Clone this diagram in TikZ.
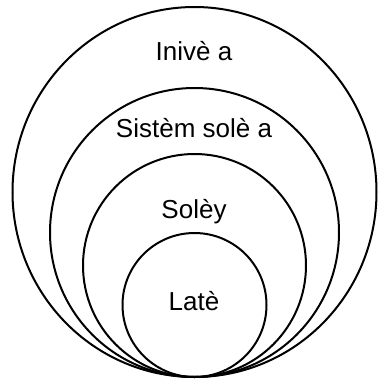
\documentclass[tikz,border=0pt]{standalone}
\usepackage{fontspec}
\setmainfont{Liberation Sans}
\usetikzlibrary{positioning,shapes.geometric}

\begin{document}
\begin{tikzpicture}[
  x=1pt, y=-1pt,
  every node/.style={font=\fontsize{26}{30}\selectfont},
  ring/.style={circle, draw, line width=2pt, outer sep=0pt, inner sep=0pt},
  lbl/.style={anchor=base}
]
  \useasboundingbox (0,0) rectangle (378,381);
  \coordinate (tip) at (194.5,377);

  \node[ring, ellipse, minimum width=364pt, minimum height=370pt, above=0pt of tip] (inive) {};
  \node[ring, minimum size=289pt, above=0pt of tip] (sisteme) {};
  \node[ring, minimum size=223pt, above=0pt of tip] (soley) {};
  \node[ring, minimum size=144pt, above=0pt of tip] (late) {};

  \node[lbl] (t1) at (194,60) {Inivè a};
  \node[lbl] (t2) at (194,137) {Sistèm solè a};
  \node[lbl] (t3) at (194,218) {Solèy};
  \node[lbl] (t4) at (194,310) {Latè};
\end{tikzpicture}
\end{document}
